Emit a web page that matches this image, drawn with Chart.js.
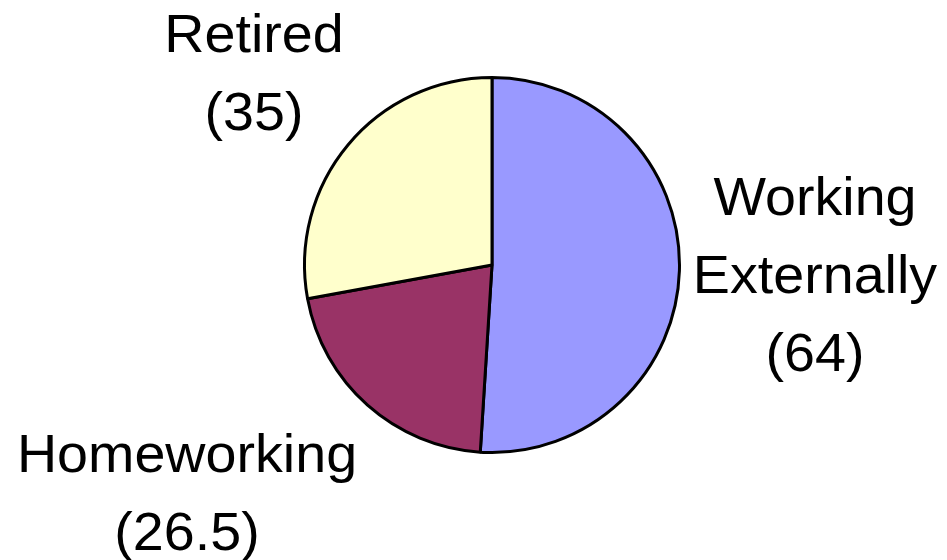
<!DOCTYPE html>
<html>
<head>
    <title>Occupation Pie</title>
    <script src="https://cdn.jsdelivr.net/npm/chart.js"></script>
    <style>
        body { margin: 0; background: #ffffff; }
        #pieChart { display: block; }
    </style>
</head>
<body>
    <canvas id="pieChart" width="947" height="560"></canvas>

    <script>
        // chart values
        const categories = ['Working Externally', 'Homeworking', 'Retired'];
        const labelLines = [['Working', 'Externally'], ['Homeworking'], ['Retired']];
        const values = [64, 26.5, 35];
        const sliceColors = ['#9999ff', '#993366', '#ffffcc'];

        // where each label block sits (centre x, first baseline y)
        const labelAnchors = [[815, 215], [187, 472], [254, 52]];

        // draws the multi-line labels outside the pie
        const outsideLabels = {
            id: 'outsideLabels',
            afterDraw(chart) {
                const ctx = chart.ctx;
                const stretch = 1.05; // reference text is a little wide
                const lineH = 78;
                ctx.save();
                ctx.fillStyle = '#000000';
                ctx.font = '53px "Liberation Sans", Arial, sans-serif';
                ctx.textAlign = 'center';
                ctx.textBaseline = 'alphabetic';
                chart.data.datasets[0].data.forEach((v, i) => {
                    const lines = labelLines[i].concat(['(' + v + ')']);
                    const [x, y] = labelAnchors[i];
                    lines.forEach((t, k) => {
                        ctx.save();
                        ctx.translate(x, y + k * lineH);
                        ctx.scale(stretch, 1);
                        ctx.fillText(t, 0, 0);
                        ctx.restore();
                    });
                });
                ctx.restore();
            }
        };

        const ctx = document.getElementById('pieChart').getContext('2d');
        new Chart(ctx, {
            type: 'pie',
            data: {
                labels: categories,
                datasets: [{
                    data: values,
                    backgroundColor: sliceColors,
                    borderColor: '#000000',
                    borderWidth: 3
                }]
            },
            options: {
                responsive: false,
                animation: false,
                rotation: 0,
                layout: {
                    padding: { left: 303, right: 266, top: 76, bottom: 106 }
                },
                plugins: {
                    legend: { display: false },
                    tooltip: { enabled: false }
                }
            },
            plugins: [outsideLabels]
        });
    </script>
</body>
</html>
